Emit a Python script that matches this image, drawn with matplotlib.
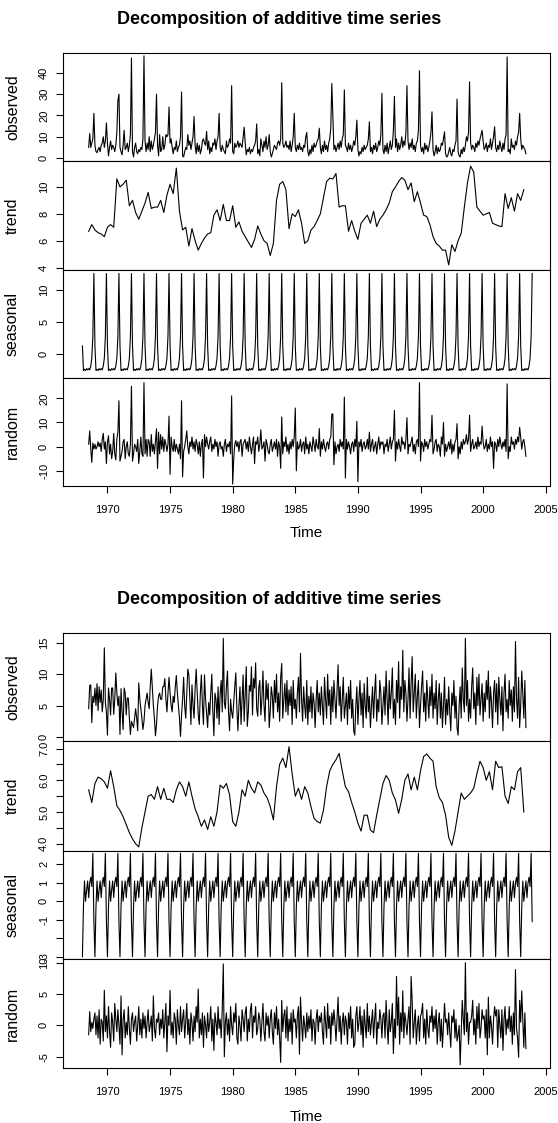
import numpy as np
import matplotlib.pyplot as plt

plt.rcParams['font.family'] = ['Liberation Sans', 'DejaVu Sans']

# ---------------- upper chart (monthly, Jul 1968 - Jun 2003) ----------------
obs_top = [
    5, 11.5, 5, 7, 9, 21,
    6, 3, 2.5, 4, 5, 3, 6, 7, 10, 5, 8, 16.5,
    7, 1, 5, 8, 4, 6, 5, 3, 6, 12, 27, 30,
    5, 3, 1.5, 6, 13, 4, 5, 7, 3, 6, 11, 47,
    3, 0.5, 5, 7, 3, 2, 4, 3, 5, 4, 9, 48,
    8, 3, 7, 4, 10, 3, 8, 4, 6, 9, 12, 30,
    6, 1, 11, 3, 4, 10, 4, 6, 11, 10, 11, 24,
    7, 9, 5, 2, 5, 4, 8, 3, 5, 6, 10, 31,
    1, 0.5, 3, 5, 4, 11, 6, 8, 4, 7, 10, 19.5,
    6, 2, 7, 3, 6, 2, 4, 8, 9, 7, 6, 12.5,
    4, 8, 2, 5, 3, 7, 6, 9, 4, 8, 10, 21,
    5, 3, 6, 4, 3, 2, 8, 5, 6, 9, 7, 34,
    3, 2, 7, 5, 6, 8, 5, 7, 6, 5, 10, 14.5,
    7, 1.5, 4, 3, 5, 2, 4, 3, 5, 6, 8, 16,
    2, 4, 1, 9, 6, 3, 8, 5, 10, 4, 6, 11,
    3, 0.5, 2, 4, 6, 5, 4, 7, 8, 6, 9, 35.4,
    7, 5, 6, 8, 5, 6, 4, 8, 3, 6, 10, 21,
    5, 3, 6, 4, 7, 4, 5, 3, 6, 5, 10, 12,
    3, 1, 4, 2, 6, 3, 7, 5, 6, 8, 9, 14,
    5, 2, 6, 3, 8, 4, 6, 3, 7, 9, 14, 35,
    19, 4, 6, 3, 5, 7, 4, 8, 5, 9, 11, 32,
    6, 5, 3, 7, 4, 6, 3, 5, 8, 6, 10, 17.8,
    4, 1, 3, 2, 5, 3, 6, 4, 5, 6, 9, 17,
    3, 5, 2, 6, 4, 7, 3, 5, 8, 6, 11, 30.4,
    4, 2, 6, 3, 7, 2, 5, 8, 4, 6, 13, 29,
    5, 9, 3, 7, 4, 6, 10, 5, 8, 6, 12, 34,
    8, 4, 7, 5, 9, 4, 6, 3, 7, 8, 13, 41,
    6, 3, 5, 2, 7, 4, 6, 3, 5, 8, 12, 21.7,
    4, 1, 3, 6, 2, 5, 3, 4, 7, 6, 9, 12.3,
    2, 0.5, 1, 3, 5, 2, 1, 4, 3, 6, 8, 27.7,
    3, 1, 0.5, 4, 2, 5, 3, 6, 10, 8, 12, 35.8,
    7, 4, 6, 5, 3, 7, 5, 8, 6, 9, 11, 13,
    8, 4, 5, 7, 3, 6, 5, 9, 4, 7, 10, 14.7,
    5, 3, 6, 4, 8, 5, 3, 7, 4, 9, 11, 47.5,
    3, 4, 2, 9, 5, 6, 4, 8, 6, 10, 12, 21,
    9, 4, 6, 5, 4, 2,
]

# quarterly readings of the trend, Jul 1968 onwards
trend_top = [
    6.7, 7.2, 6.8, 6.6, 6.5, 6.3, 7.0, 7.2, 7.0, 10.6,
    10.0, 10.2, 10.5, 8.6, 9.0, 8.1, 7.6, 8.2, 8.8, 9.6,
    8.4, 8.5, 8.5, 9.0, 8.1, 9.4, 10.2, 9.5, 11.4, 8.2,
    6.8, 7.0, 5.6, 6.9, 6.0, 5.3, 5.8, 6.2, 6.5, 6.6,
    7.9, 8.3, 7.5, 8.7, 7.5, 7.5, 8.6, 7.0, 7.4, 6.7,
    6.3, 5.9, 5.5, 6.1, 7.1, 6.5, 6.0, 5.8, 4.9, 5.8,
    9.0, 10.2, 10.4, 9.8, 6.9, 8.0, 7.8, 8.3, 7.3, 5.8,
    6.0, 6.8, 7.05, 7.5, 8.0, 9.2, 10.4, 10.65, 10.6, 11.0,
    8.5, 8.6, 8.6, 6.7, 7.5, 6.7, 6.1, 7.3, 7.6, 7.9,
    7.3, 8.2, 7.05, 7.6, 7.9, 8.3, 8.8, 9.65, 10.0, 10.4,
    10.7, 10.5, 9.8, 10.3, 8.9, 9.65, 8.8, 7.9, 7.8, 7.2,
    6.3, 5.8, 5.6, 5.3, 5.3, 4.2, 5.7, 5.2, 6.0, 6.55,
    8.5, 10.3, 11.55, 11.1, 8.5, 8.2, 7.9, 8.0, 8.1, 7.3,
    7.2, 7.1, 7.05, 9.5, 8.4, 9.2, 8.2, 9.5, 9.0, 9.8,
]

# seasonal figure, Jan..Dec
seas_fig_top = [1.3, -2.5, -2.3, -2.5, -2.2, -2.4, -2.2, -2.4, -1.8, -0.6, 2.8, 12.5]

rand_top = [
    1, 6.5, -1, -6.5, 1.5, -1,
    1, -1, 0, 2, 0, 1.5, -2, 3, 5.5, -1, 2, -7,
    2, 4.5, -3, 1, -5, -2, 5.5, -3, -5.5, 3, 6, 19,
    -6, -4, -2, 2, 3, -5, 0, 2, -3, -4, 1, 25,
    -6, -3, 1, 0, -2, 3, -7, -2, 4, -3, -4, 26.5,
    -3, 3, -4, 3, 2, -4, 5, -2, 1, -3, 2, 7.4,
    -9, 6, -3, 5, -1, 4, -2, 3, 1, -2, 1, 12.6,
    -11.5, 4, 0, -2, 3, -2, 1, -1, -3, 1, -5, 19,
    -12.5, -2, 0, 3, 6.5, 0, -3, 2, 0, 4, -1, 2,
    -2, 3, 1, -3, 2, -4, 1, 3, -13, 5, 0, 4,
    1, -1, 2, 4, -2, 1, -1, 3, 0, 2, -4, 1,
    2, -1, 0, -4, 1, 3, -2, 1, 0, 2, -3, 21,
    -15.5, -5, 1, 2.5, 0, 2, -2, 2, 3, -4, 1, 2,
    3, -1, 2, -2, 4, 0, -3, 1, 4, -7, 2, 1,
    4, -2, 1, 7, -1, 0, 2, -6, 3, 1, -2, -3,
    1, 3, -2, 0, 2, -1, 3, -4, 2, 0, -9, 12.3,
    -3, 2, 0, 4, -2, 1, -3, 2, -1, 3, 0, 4,
    16, -10, 2, -1, 0, 3, -2, 1, 2, -3, 4, -1,
    1, -3, 2, 0, -2, 4, 1, -2, 3, 0, -1, 7.5,
    -4, 2, -1, 3, 0, -2, 1, 2, -1, 3, 4, 13.5,
    13.5, -7.5, 2, -3, 0, 1, -2, 3, 0, 2, -1, 20.5,
    -13, 3, -1, 2, 0, -3, 1, 2, -2, 3, 0, 10.5,
    -14.5, 2, 0, 3, -2, 1, 2, -1, 0, 3, -1, 6,
    -2, 1, 3, -2, 0, 2, -3, 1, 4, -1, 2, 1,
    2, -3, 1, 0, 3, -2, 1, 4, -1, 2, 3, 15,
    -6, 2, -1, 3, 0, -2, 4, 1, 2, -1, 3, 12,
    -3, 1, 0, 2, 4, -2, 1, -3, 2, 3, 0, 26.5,
    -6, 2, 1, -2, 3, 0, 2, -1, 1, 3, 2, 13,
    -3, -1, 2, 3, -2, 1, 0, -4, 4, 1, 10, -4,
    1, -2, 0, 2, -1, 3, -3, 1, -2, 2, 3, 9.5,
    -5, 0, -3, 2, -1, 3, 1, 2, 5, 1, 3, 13,
    -2, 1, 3, -1, 0, 2, -1, 4, 0, 2, 1, 8.5,
    2, -1, 0, 3, -2, 1, -1, 4, 0, 2, -9, 2,
    1, -2, 3, 0, 4, 1, -1, 2, 0, 3, -2, 26,
    -5, 0, -2, 4, 1, 2, -1, 3, 1, 4, 2, 8,
    4, -1, 2, 3, 0, -4,
]

# ---------------- lower chart ----------------
obs_bot = [
    4.5, 8.2, 8.3, 2.3, 6.5, 5.5,
    7.8, 5.0, 8.5, 4.2, 8.0, 5.5, 7.5, 4.0, 6.0, 14.2, 5.5, 4.0,
    0.3, 7.8, 6.0, 3.5, 7.8, 7.8, 3.6, 6.0, 10.2, 7.0, 5.0, 6.5,
    0.4, 7.7, 4.0, 1.2, 7.8, 7.0, 3.5, 6.2, 6.2, 3.0, 0.4, 2.5,
    2.0, 1.5, 3.0, 4.5, 3.0, 1.0, 8.6, 6.0, 4.5, 3.0, 1.2, 2.5,
    5.0, 6.0, 7.0, 5.5, 4.5, 8.0, 10.8, 8.0, 5.0, 3.0, 0.2, 2.0,
    5.0, 6.5, 7.0, 6.0, 6.0, 8.0, 8.0, 9.3, 6.0, 4.0, 7.0, 9.5,
    7.0, 5.0, 4.0, 6.5, 5.5, 8.0, 9.8, 7.0, 5.0, 3.0, 0.1, 3.5,
    6.0, 9.5, 5.0, 3.0, 7.0, 10.8, 9.9, 6.0, 2.0, 8.3, 5.0, 3.0,
    7.7, 10.8, 7.0, 3.5, 2.0, 7.0, 9.9, 5.0, 2.0, 9.9, 6.0, 3.8,
    1.5, 5.5, 3.5, 7.0, 10.0, 4.0, 0.2, 7.0, 6.0, 3.0, 8.0, 2.0,
    7.0, 9.0, 4.0, 15.7, 5.5, 4.5, 8.0, 10.5, 4.0, 1.0, 6.0, 4.0,
    3.0, 5.5, 8.0, 10.2, 4.5, 1.0, 5.0, 8.0, 2.0, 6.0, 9.9, 2.5,
    7.0, 11.2, 1.7, 4.0, 8.2, 7.3, 11.2, 3.5, 9.3, 7.8, 11.8, 4.5,
    3.3, 7.8, 9.0, 3.5, 6.0, 10.5, 5.0, 2.5, 9.0, 6.0, 8.5, 1.5,
    4.0, 8.0, 6.5, 3.0, 9.0, 5.5, 10.0, 4.0, 7.0, 2.5, 9.5, 11.7,
    3.0, 6.0, 8.5, 4.0, 9.0, 3.5, 7.5, 5.0, 8.0, 2.0, 9.0, 4.5,
    6.0, 3.0, 7.0, 9.5, 4.0, 13.3, 6.0, 2.5, 8.0, 5.0, 3.0, 9.0,
    2.0, 6.5, 4.0, 8.0, 3.0, 7.0, 5.5, 1.5, 6.0, 9.0, 4.0, 7.0,
    3.5, 8.0, 5.0, 2.0, 9.5, 6.0, 3.0, 10.0, 5.0, 7.5, 2.0, 8.0,
    4.0, 9.0, 6.0, 3.0, 7.5, 11.5, 5.0, 8.0, 2.5, 6.0, 9.5, 3.0,
    5.0, 7.0, 2.0, 8.0, 4.5, 9.0, 3.0, 6.0, 1.0, 0.3, 5.0, 8.0,
    2.0, 6.0, 9.0, 3.5, 7.0, 1.5, 8.5, 5.0, 3.0, 9.5, 4.0, 6.5,
    1.5, 5.0, 8.0, 3.0, 7.0, 10.0, 2.5, 6.0, 4.0, 9.0, 7.0, 2.0,
    5.0, 8.0, 3.5, 10.5, 6.0, 2.0, 9.0, 4.5, 7.0, 11.0, 3.0, 6.0,
    2.0, 9.0, 5.5, 12.0, 3.0, 8.0, 6.0, 13.8, 4.0, 9.0, 7.0, 2.5,
    6.0, 11.0, 3.0, 8.5, 12.8, 4.0, 7.0, 10.0, 3.0, 6.5, 9.0, 1.5,
    5.0, 8.0, 10.5, 4.0, 7.0, 2.5, 9.0, 6.0, 3.0, 8.0, 5.0, 10.0,
    3.0, 7.0, 4.5, 9.0, 2.0, 6.0, 8.5, 3.0, 7.0, 1.5, 5.0, 9.5,
    2.0, 6.0, 3.5, 8.0, 4.0, 1.0, 7.0, 5.0, 9.0, 3.0, 6.5, 1.5,
    0.3, 5.0, 8.0, 3.0, 11.0, 6.0, 4.0, 15.7, 5.0, 9.0, 2.5, 6.0,
    3.0, 8.0, 11.0, 4.5, 7.0, 2.0, 9.5, 5.0, 10.0, 3.5, 6.0, 8.5,
    2.5, 7.0, 4.0, 9.0, 6.0, 10.5, 3.0, 8.0, 5.5, 1.5, 7.0, 9.0,
    4.0, 8.5, 2.0, 9.5, 6.0, 3.5, 8.0, 1.0, 7.0, 10.0, 4.0, 6.0,
    3.0, 9.0, 5.0, 7.5, 2.5, 8.0, 4.0, 15.2, 6.0, 3.0, 9.5, 1.5,
    5.0, 10.5, 7.0, 3.0, 9.0, 1.5,
]

trend_bot = [
    5.7, 5.3, 5.9, 6.1, 6.05, 5.95, 5.75, 6.3, 5.8, 5.2,
    5.05, 4.85, 4.6, 4.35, 4.15, 4.0, 3.9, 4.5, 5.0, 5.5,
    5.55, 5.4, 5.8, 5.4, 5.75, 5.4, 5.4, 5.3, 5.7, 5.95,
    5.8, 5.5, 5.95, 5.5, 5.1, 4.85, 4.55, 4.75, 4.45, 4.85,
    4.55, 5.0, 5.85, 5.75, 5.9, 5.55, 4.7, 4.55, 5.0, 5.7,
    5.5, 6.0, 5.75, 5.6, 5.95, 5.85, 5.6, 5.45, 5.17, 4.75,
    5.8, 6.5, 6.7, 6.4, 7.06, 6.2, 5.5, 5.75, 5.4, 5.8,
    5.6, 5.17, 4.8, 4.7, 4.65, 5.06, 5.8, 6.3, 6.5, 6.65,
    6.85, 6.3, 5.8, 5.64, 5.3, 5.0, 4.65, 4.4, 4.9, 4.9,
    4.43, 4.35, 4.9, 5.4, 5.9, 6.15, 6.0, 5.6, 5.38, 4.96,
    5.4, 6.0, 6.2, 5.7, 6.1, 5.7, 6.3, 6.75, 6.83, 6.7,
    6.6, 5.8, 5.45, 5.3, 4.9, 4.2, 3.95, 4.4, 5.0, 5.6,
    5.4, 5.5, 5.6, 5.75, 6.2, 6.6, 6.4, 6.0, 6.27, 5.7,
    6.6, 6.4, 6.43, 5.5, 5.27, 5.8, 5.7, 6.27, 6.4, 5.0,
]

seas_fig_bot = [-3.0, -0.3, 1.1, 0.0, 0.6, 1.1, 0.2, 1.0, 1.3, 0.8, 2.6, -1.1]

rand_bot = [
    -1.5, 2.2, -1.0, 0.5, -0.5, 1.0,
    2.0, -1.5, 1.5, -2.0, 2.5, -3.0, 1.0, 0.5, -2.5, 5.6, -1.0, 1.5,
    -2.0, 3.0, -1.0, -3.5, 2.0, 0.5, -2.5, 3.5, 1.0, -1.0, 2.5, 0.0,
    -3.0, 4.7, -4.7, 1.0, 2.5, -2.0, 0.5, -1.5, 3.0, -0.5, -3.0, 1.0,
    2.0, -1.0, 0.5, 1.5, -2.5, 0.0, 3.0, -1.5, 1.0, -2.0, 2.0, -0.5,
    1.5, -2.0, 0.5, 2.5, -1.0, 0.0, 1.5, -2.5, 4.7, -0.5, -2.0, 1.0,
    0.5, 2.0, -1.5, 1.0, -0.5, 2.5, -2.0, 0.5, 3.5, -4.2, 1.5, 0.0,
    5.6, -1.5, 0.5, -2.0, 2.0, 1.0, -3.0, 2.5, 0.0, -1.5, 3.0, -1.0,
    1.0, 2.5, -2.0, 0.5, 3.5, -1.5, 1.0, -3.0, 2.0, 0.5, -2.5, 1.5,
    -1.0, 3.0, 0.5, 5.8, -2.0, 1.0, -1.5, 2.0, -3.5, 1.5, 0.0, -2.0,
    2.0, -1.0, 0.5, 3.0, -2.5, 1.0, -4.0, 2.0, 0.5, -1.5, 3.0, -0.5,
    1.0, -2.0, 2.5, 9.8, -5.0, 0.5, 2.0, -1.5, 1.0, -2.5, 3.0, 0.0,
    -1.5, 2.0, 0.5, 3.5, -2.0, -3.0, 1.5, 0.0, -2.5, 2.5, 1.0, -1.0,
    2.0, 3.0, -2.5, 1.0, -1.0, 2.5, 3.5, -2.0, 1.5, 0.5, 3.0, -1.5,
    -0.5, 2.0, 1.0, -2.5, 0.5, 3.5, -1.0, -2.5, 2.0, 0.0, 1.5, -2.0,
    1.0, 2.5, -1.0, -3.0, 2.0, -0.5, 3.0, -1.5, 1.0, -2.0, -5.9, 4.0,
    -1.0, 1.5, 2.5, -2.0, 3.0, -2.5, 1.0, -1.0, 2.0, -3.0, 2.5, 0.5,
    1.0, -2.0, 1.5, 3.0, -4.6, 4.5, 0.5, -2.5, 1.5, 0.0, -2.0, 2.0,
    -1.0, 1.5, -0.5, 2.5, -2.5, 1.0, 0.5, -3.0, 1.0, 2.5, -1.0, 1.5,
    0.5, 2.0, -1.0, -3.0, 3.0, 0.5, -2.0, 3.5, -0.5, 1.5, -3.0, 2.0,
    0.0, 2.5, 0.5, -2.5, 1.0, 4.5, -1.0, 1.5, -3.0, 0.5, 2.0, -1.5,
    1.5, 0.5, -3.0, 2.0, -0.5, 3.0, -2.0, 1.0, -3.5, -3.0, 1.5, 3.0,
    -1.0, 0.5, 3.0, -1.5, 1.5, -3.5, 2.5, 0.0, -2.0, 3.5, -1.0, 1.5,
    -1.5, 0.5, 2.5, -2.0, 1.0, 3.5, -3.0, 0.5, -0.5, 2.5, 1.0, -2.0,
    1.5, 2.0, -2.0, 4.0, 0.0, -3.0, 2.5, -1.0, 0.5, 3.5, -4.5, 1.0,
    -2.0, 7.8, 0.0, 4.5, -3.0, 2.0, -1.0, 5.5, -2.0, 2.0, 0.5, -1.5,
    1.0, 3.0, -3.0, 7.8, 4.0, -2.0, 0.5, 2.5, -3.0, 0.0, 1.5, -2.5,
    1.5, 2.0, 3.5, -2.0, 1.0, -3.0, 2.5, -0.5, -2.0, 1.5, 0.5, 3.0,
    -1.0, 1.5, -0.5, 2.5, -3.0, 0.5, 2.0, -2.5, 1.0, -3.5, 0.0, 3.5,
    0.5, 1.0, -1.5, 2.0, -1.0, -3.5, 1.5, 0.5, 2.5, -2.0, 1.0, -2.5,
    -1.5, 0.0, -6.3, -1.0, 4.0, 1.0, -1.5, 10.0, -1.0, 2.0, -3.0, 0.5,
    0.5, 1.5, 4.0, -1.5, 1.0, -3.0, 3.0, -0.5, 3.5, -2.0, -0.5, 2.5,
    1.0, 1.5, -2.0, 2.5, -4.7, 4.5, -2.0, 1.5, 0.0, -3.0, 1.0, 3.0,
    1.5, 2.5, -3.5, 2.5, 0.0, -2.0, 2.5, -4.0, 1.0, 3.0, -1.5, 1.0,
    -0.5, 3.0, -1.0, 1.5, -3.0, 2.0, -1.5, 8.9, -0.5, -2.0, -5.1, 4.0,
    0.5, 5.5, 1.0, -3.5, 2.0, -3.7,
]

panel_names = ['observed', 'trend', 'seasonal', 'random']
years = list(range(1970, 2006, 5))

W, H = 558, 1123
fig = plt.figure(figsize=(W / 100, H / 100), dpi=100)
LEFT, RIGHT = 63, 549.5
XLIM = (1966.45, 2005.3)


def series_times(n, start, per_year):
    return start + np.arange(n) / per_year


def draw_chart(edges, data, ylims, yticks, ylabels, title_y, xlab_y):
    axes = []
    for i in range(4):
        top, bot = edges[i], edges[i + 1]
        ax = fig.add_axes([LEFT / W, 1 - bot / H, (RIGHT - LEFT) / W, (bot - top) / H])
        t, v = data[i]
        ax.plot(t, v, color='black', lw=0.8)
        ax.set_xlim(*XLIM)
        ax.set_ylim(*ylims[i])
        ax.set_yticks(yticks[i], ylabels[i])
        ax.tick_params(axis='y', direction='out', length=5, width=0.8, pad=5,
                       labelsize=8)
        for lab in ax.get_yticklabels():
            lab.set_rotation(90)
            lab.set_verticalalignment('center')
        ax.set_ylabel(panel_names[i], fontsize=11.5)
        ax.yaxis.set_label_coords((20 - LEFT) / (RIGHT - LEFT), 0.5)
        for s in ax.spines.values():
            s.set_linewidth(0.8)
        if i < 3:
            ax.tick_params(axis='x', bottom=False, labelbottom=False)
        else:
            ax.set_xticks(years, [str(y) for y in years])
            ax.tick_params(axis='x', direction='out', length=5, width=0.8, pad=9,
                           labelsize=8)
        axes.append(ax)
    fig.text(279 / W, 1 - title_y / H, 'Decomposition of additive time series',
             ha='center', va='center', fontsize=13, fontweight='bold')
    fig.text((LEFT + RIGHT) / 2 / W, 1 - xlab_y / H, 'Time',
             ha='center', va='center', fontsize=11)
    return axes


n_seas = 432
t_seas = series_times(n_seas, 1968.0, 12)

top_data = [
    (series_times(len(obs_top), 1968.5, 12), obs_top),
    (series_times(len(trend_top), 1968.5, 4), trend_top),
    (t_seas, np.tile(seas_fig_top, n_seas // 12)),
    (series_times(len(rand_top), 1968.5, 12), rand_top),
]
draw_chart(
    [53.3, 161, 270.3, 378.3, 486],
    top_data,
    [(-1.4, 49.2), (3.8, 11.93), (-3.7, 13.0), (-16.3, 28.3)],
    [[0, 10, 20, 30, 40], [4, 6, 8, 10], [0, 5, 10], [-10, 0, 10, 20]],
    [['0', '10', '20', '30', '40'], ['4', '6', '8', '10'], ['0', '5', '10'],
     ['-10', '0', '10', '20']],
    20, 533,
)

bot_data = [
    (series_times(len(obs_bot), 1968.5, 12), obs_bot),
    (series_times(len(trend_bot), 1968.5, 4), trend_bot),
    (t_seas, np.tile(seas_fig_bot, n_seas // 12)),
    (series_times(len(rand_bot), 1968.5, 12), rand_bot),
]
draw_chart(
    [632.7, 741.3, 850.7, 959.3, 1067.7],
    bot_data,
    [(-0.68, 16.6), (3.78, 7.23), (-3.14, 2.74), (-6.75, 10.54)],
    [[0, 5, 10, 15], [4.0, 4.5, 5.0, 5.5, 6.0, 6.5, 7.0], [-3, -2, -1, 0, 1, 2],
     [-5, 0, 5, 10]],
    [['0', '5', '10', '15'], ['4.0', '', '5.0', '', '6.0', '', '7.0'],
     ['-3', '', '-1', '0', '1', '2'], ['-5', '0', '5', '10']],
    600, 1117,
)

fig.savefig('out.png', dpi=100)
